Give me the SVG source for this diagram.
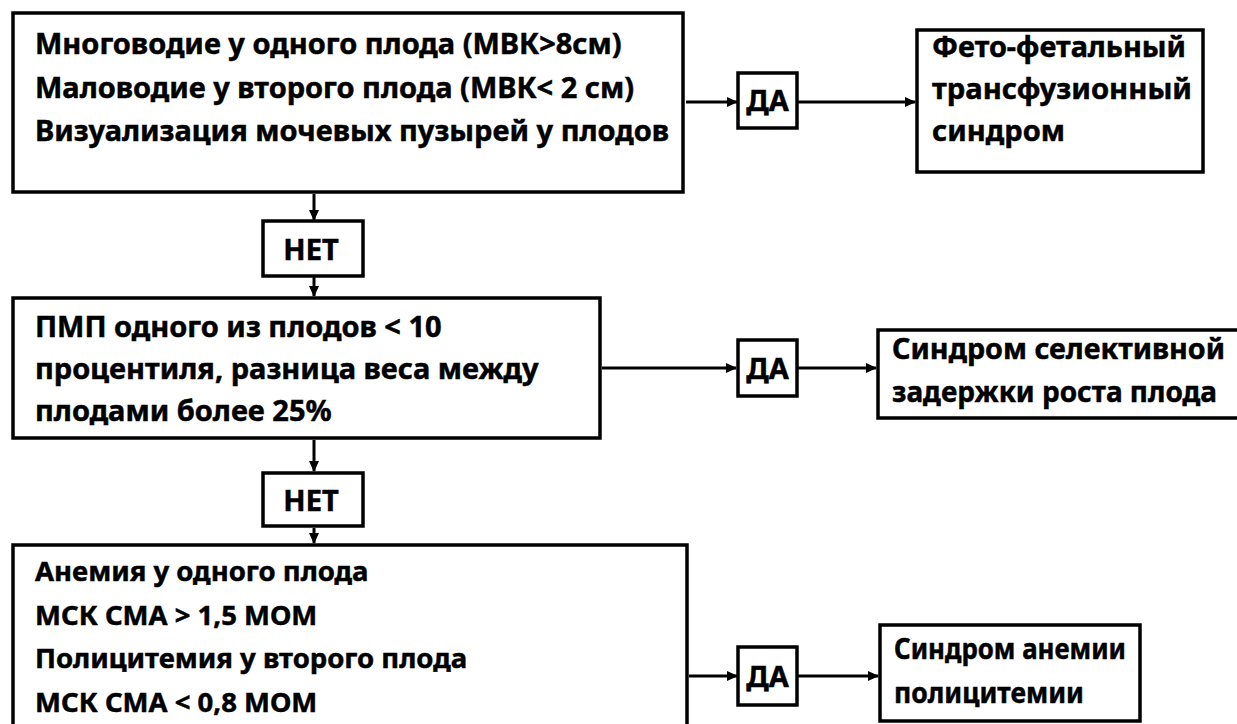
<svg xmlns="http://www.w3.org/2000/svg" width="1237" height="724" viewBox="0 0 1237 724">
<defs>
<style>
.box{fill:#fff;stroke:#000;stroke-width:3.5}
.t{font-family:"Noto Sans","Open Sans","DejaVu Sans",sans-serif;font-weight:bold;font-size:29px;fill:#000;stroke:#000;stroke-width:0.5}
.s{font-size:27.5px}
.c{stroke:#000;stroke-width:3;fill:none;marker-end:url(#ah)}
</style>
<marker id="ah" markerWidth="11" markerHeight="10" refX="10" refY="5" orient="auto" markerUnits="userSpaceOnUse">
<path d="M0,0 L11,5 L0,10 z" fill="#000"/>
</marker>
</defs>
<rect width="1237" height="724" fill="#fff"/>
<g id="connectors">
<line class="c" x1="686" y1="102" x2="737" y2="102"/>
<line class="c" x1="798" y1="102" x2="915" y2="102"/>
<line class="c" x1="314" y1="194" x2="314" y2="220"/>
<line class="c" x1="314" y1="277" x2="314" y2="296"/>
<line class="c" x1="602" y1="368" x2="736" y2="368"/>
<line class="c" x1="798" y1="368" x2="876" y2="368"/>
<line class="c" x1="314" y1="440" x2="314" y2="471"/>
<line class="c" x1="314" y1="528" x2="314" y2="543"/>
<line class="c" x1="689" y1="676" x2="737" y2="676"/>
<line class="c" x1="798" y1="676" x2="878" y2="676"/>
</g>
<g id="box1">
<rect class="box" x="13" y="13" width="670" height="179"/>
<text class="t" x="35" y="54">Многоводие у одного плода (МВК&gt;8см)</text>
<text class="t" x="35" y="98">Маловодие у второго плода (МВК&lt; 2 см)</text>
<text class="t" x="35" y="141">Визуализация мочевых пузырей у плодов</text>
</g>
<g id="da1">
<rect class="box" x="738" y="73" width="59" height="55"/>
<text class="t" x="767.5" y="111" text-anchor="middle">ДА</text>
</g>
<g id="ttts">
<rect class="box" x="917" y="30" width="286" height="142"/>
<text class="t" x="932" y="57" textLength="254" lengthAdjust="spacingAndGlyphs">Фето-фетальный</text>
<text class="t" x="932" y="99" textLength="260" lengthAdjust="spacingAndGlyphs">трансфузионный</text>
<text class="t" x="932" y="141">синдром</text>
</g>
<g id="net1">
<rect class="box" x="263" y="221" width="100" height="55"/>
<text class="t" x="311" y="260" text-anchor="middle">НЕТ</text>
</g>
<g id="box2">
<rect class="box" x="13" y="298" width="587" height="140"/>
<text class="t" x="35" y="337">ПМП одного из плодов &lt; 10</text>
<text class="t" x="35" y="379">процентиля, разница веса между</text>
<text class="t" x="35" y="421">плодами более 25%</text>
</g>
<g id="da2">
<rect class="box" x="738" y="340" width="59" height="56"/>
<text class="t" x="767.5" y="379" text-anchor="middle">ДА</text>
</g>
<g id="sfgr">
<rect class="box" x="878" y="330" width="365" height="88"/>
<text class="t" x="892" y="359" textLength="333" lengthAdjust="spacingAndGlyphs">Синдром селективной</text>
<text class="t" x="892" y="402" textLength="325" lengthAdjust="spacingAndGlyphs">задержки роста плода</text>
</g>
<g id="net2">
<rect class="box" x="263" y="473" width="100" height="53"/>
<text class="t" x="311" y="511" text-anchor="middle">НЕТ</text>
</g>
<g id="box3">
<rect class="box" x="13" y="545" width="674" height="190"/>
<text class="t s" x="35" y="581">Анемия у одного плода</text>
<text class="t s" x="35" y="625">МСК СМА &gt; 1,5 МОМ</text>
<text class="t s" x="35" y="668">Полицитемия у второго плода</text>
<text class="t s" x="35" y="712">МСК СМА &lt; 0,8 МОМ</text>
</g>
<g id="da3">
<rect class="box" x="738" y="647" width="59" height="58"/>
<text class="t" x="767.5" y="687" text-anchor="middle">ДА</text>
</g>
<g id="taps">
<rect class="box" x="880" y="625" width="260" height="96"/>
<text class="t" x="894" y="659" textLength="232" lengthAdjust="spacingAndGlyphs">Синдром анемии</text>
<text class="t" x="894" y="703" textLength="190" lengthAdjust="spacingAndGlyphs">полицитемии</text>
</g>
</svg>
